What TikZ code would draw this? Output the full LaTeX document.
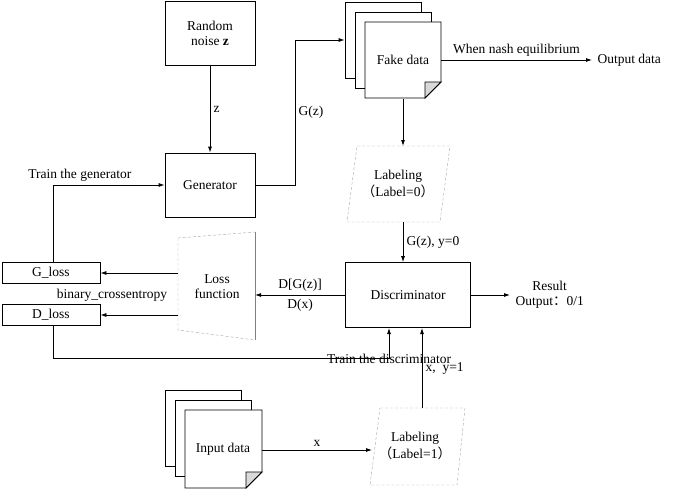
\documentclass[tikz,border=0pt]{standalone}
\usepackage{fontspec}
\setmainfont{Liberation Serif}
\newfontfamily\cjk{Noto Sans CJK SC}
\usetikzlibrary{arrows.meta}
\usetikzlibrary{positioning}
\tikzset{
  box/.style={draw, thick, minimum width=90pt, minimum height=64pt, align=center},
  lossbox/.style={draw, thick, minimum width=98pt, minimum height=21pt, inner sep=0pt},
  page/.style={draw, thick, fill=white, minimum width=76pt, minimum height=76pt},
  flow/.style={thick, -{Latex[length=6pt,width=4pt]}},
  dashedge/.style={gray!70, densely dashed, thin}
}
\begin{document}
\begin{tikzpicture}[x=1pt,y=-1pt,font=\fontsize{13.5}{15}\selectfont]
\useasboundingbox (0,0) rectangle (685,490);

% generator side
\node[box] (noise) at (210,33) {Random\\noise \textbf{z}};
\node[box] (gen) at (210,185) {Generator};
\draw[flow] (noise) -- node[right] {z} (gen);

% fake data pages
\node[page] (fake3) at (383,40) {};
\node[page] (fake2) at (393,50) {};
\draw[thick, fill=white] (365,22) -- (441,22) -- (441,82) -- (425,98) -- (365,98) -- cycle;
\draw[thick, fill=gray!30] (441,82) -- (425,82) -- (425,98) -- cycle;
\node (fake) at (403,60) {Fake data};
\draw[flow] (gen.east) -- (295,185) |- node[pos=0.25, right] {G(z)} (fake3.west);

\coordinate (nash) at (592,60);
\draw[flow] (441,60) -- node[above] {When nash equilibrium} (nash);
\node[right=2pt of nash] (out) {Output data};

% labeling 0
\draw[dashedge] (357,146) -- (450,146) -- (440,222) -- (347,222) -- cycle;
\node[align=center] (lab0) at (398,184) {Labeling\\[2pt]{\cjk （}Label=0{\cjk ）}};
\coordinate (lab0top) at (403,146);
\draw[flow] (403,99) -- (lab0top);

% discriminator
\node[box, minimum width=125pt, minimum height=65pt] (disc) at (408,295) {Discriminator};
\draw[flow] (403,222) -- node[right] {G(z), y=0} (disc.north -| 403,0);
\coordinate (res) at (510,295);
\draw[flow] (disc.east) -- (res);
\node[align=center, right=2pt of res] (result) {Result\\Output{\cjk ：}0/1};

% loss function
\draw[dashedge] (178,238) -- (255,232);
\draw[dashedge] (178,238) -- (178,330) -- (255,340);
\draw[thin, gray] (255,232) -- (255,340);
\node[align=center] (loss) at (217,287) {Loss\\function};
\draw[flow] (disc.west) -- node[above] {D[G(z)]} node[below] {D(x)} (255,295);

\node[lossbox] (gl) at (51,273) {G\_loss};
\node[lossbox] (dl) at (51,315) {D\_loss};
\node (bce) at (112,295) {binary\_crossentropy};
\draw[flow] (178,273) -- (gl);
\draw[flow] (178,315) -- (dl);
\draw[flow] (gl.north -| 53,0) |- node[pos=0.62, above] {Train the generator} (gen.west);
\draw[flow] (dl.south -| 53,0) -- (53,358) -| node[pos=0.62, below] {Train the discriminator} (389,328);

% input data pages
\node[page] (in3) at (203,428) {};
\node[page] (in2) at (213,438) {};
\draw[thick, fill=white] (185,410) -- (262,410) -- (262,472) -- (246,488) -- (185,488) -- cycle;
\draw[thick, fill=gray!30] (262,472) -- (246,472) -- (246,488) -- cycle;
\node (input) at (223,449) {Input data};

% labeling 1
\draw[dashedge] (380,408) -- (465,408) -- (457,485) -- (370,485) -- cycle;
\node[align=center] (lab1) at (415,446) {Labeling\\[2pt]{\cjk （}Label=1{\cjk ）}};
\draw[flow] (262,450) -- node[above] {x} (372,450);
\draw[flow] (422,408) -- node[right] {x,\ \ y=1} (422,328);
\end{tikzpicture}
\end{document}
